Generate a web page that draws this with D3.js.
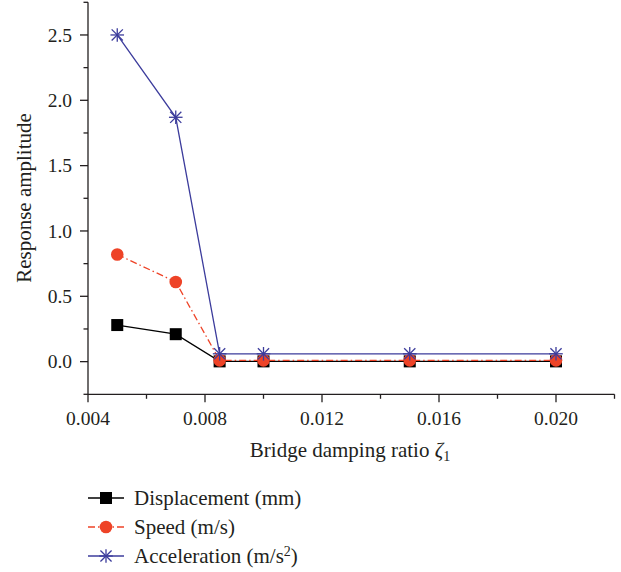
<!DOCTYPE html>
<html>
<head>
<meta charset="utf-8">
<script src="https://cdn.jsdelivr.net/npm/d3@7"></script>
<style>
  html, body { margin: 0; padding: 0; background: #fff; }
  svg { display: block; }
</style>
</head>
<body>
<svg id="chart" width="621" height="572" font-family="'Liberation Serif', 'Times New Roman', 'DejaVu Serif', serif"></svg>
<script>
// Bridge damping ratio values
const dampingRatio = [0.005, 0.007, 0.0085, 0.010, 0.015, 0.020];
// Response amplitudes per series
const displacement = [0.28, 0.21, 0.002, 0.002, 0.002, 0.002];
const speed        = [0.82, 0.61, 0.01, 0.01, 0.01, 0.01];
const acceleration = [2.50, 1.87, 0.06, 0.06, 0.06, 0.06];

const xTickValues = [0.004, 0.008, 0.012, 0.016, 0.020];
const yTickValues = [0.0, 0.5, 1.0, 1.5, 2.0, 2.5];

const seriesNames = ["Displacement (mm)", "Speed (m/s)", "Acceleration (m/s"];

const svg = d3.select("#chart");
const fs = 19.5;      // tick labels
const fsTitle = 21;   // axis titles
const fsLegend = 21;  // legend entries

const x = d3.scaleLinear().domain([0.004, 0.022]).range([88, 614.5]);
const y = d3.scaleLinear().domain([-0.25, 2.75]).range([394.3, 2.3]);

const ink = "#231f20";

// Axes: major ticks labelled, minor ticks halfway
const xMinor = d3.range(0.006, 0.0221, 0.004);
const yMinor = d3.range(-0.25, 2.76, 0.5);

const gx = svg.append("g").attr("transform", `translate(0,${y(-0.25)})`);
gx.append("line").attr("x1", x(0.004)).attr("x2", x(0.022)).attr("stroke", ink).attr("stroke-width", 1.3);
gx.selectAll(".maj").data(xTickValues).join("line")
  .attr("x1", d => x(d)).attr("x2", d => x(d)).attr("y1", 0).attr("y2", 8)
  .attr("stroke", ink).attr("stroke-width", 1.3);
gx.selectAll(".min").data(xMinor).join("line")
  .attr("x1", d => x(d)).attr("x2", d => x(d)).attr("y1", 0).attr("y2", 4.5)
  .attr("stroke", ink).attr("stroke-width", 1.3);
gx.selectAll("text").data(xTickValues).join("text")
  .attr("x", d => x(d)).attr("y", 31).attr("text-anchor", "middle").attr("fill", ink)
  .attr("font-size", fs).text(d3.format(".3f"));

const gy = svg.append("g").attr("transform", `translate(${x(0.004)},0)`);
gy.append("line").attr("y1", y(-0.25)).attr("y2", y(2.75)).attr("stroke", ink).attr("stroke-width", 1.3);
gy.selectAll(".maj").data(yTickValues).join("line")
  .attr("y1", d => y(d)).attr("y2", d => y(d)).attr("x1", 0).attr("x2", -8)
  .attr("stroke", ink).attr("stroke-width", 1.3);
gy.selectAll(".min").data(yMinor).join("line")
  .attr("y1", d => y(d)).attr("y2", d => y(d)).attr("x1", 0).attr("x2", -4.5)
  .attr("stroke", ink).attr("stroke-width", 1.3);
gy.selectAll("text").data(yTickValues).join("text")
  .attr("x", -16).attr("y", d => y(d)).attr("dy", "0.34em").attr("text-anchor", "end").attr("fill", ink)
  .attr("font-size", fs).text(d3.format(".1f"));

// Axis titles
svg.append("text").attr("x", 350).attr("y", 457).attr("text-anchor", "middle").attr("fill", ink)
  .attr("font-size", fsTitle)
  .call(t => {
    t.append("tspan").text("Bridge damping ratio ");
    t.append("tspan").attr("font-style", "italic").text("ζ");
    t.append("tspan").attr("font-size", 14).attr("dy", 4).text("1");
  });

svg.append("text").attr("transform", "translate(31,198) rotate(-90)").attr("fill", ink)
  .attr("text-anchor", "middle").attr("font-size", fsTitle).text("Response amplitude");

// Series styles
const styles = [
  { values: displacement, color: "#000000", dash: null,      marker: "square" },
  { values: speed,        color: "#ee4327", dash: "7,3,1.5,3", marker: "circle" },
  { values: acceleration, color: "#3c3c9c", dash: null,      marker: "star" }
];

function drawMarker(g, type, color) {
  if (type === "square") {
    g.append("rect").attr("x", -6).attr("y", -6).attr("width", 12).attr("height", 12).attr("fill", "#000");
  } else if (type === "circle") {
    g.append("circle").attr("r", 6.3).attr("fill", color);
  } else {
    const r = 6.8;
    const segs = [[0, -r, 0, r], [-r, 0, r, 0], [-r * 0.82, -r * 0.82, r * 0.82, r * 0.82], [-r * 0.82, r * 0.82, r * 0.82, -r * 0.82]];
    segs.forEach(s => g.append("line").attr("x1", s[0]).attr("y1", s[1]).attr("x2", s[2]).attr("y2", s[3])
      .attr("stroke", color).attr("stroke-width", 1.3));
  }
}

const line = d3.line().x((d, i) => x(dampingRatio[i])).y(d => y(d));

styles.forEach(s => {
  svg.append("path").datum(s.values).attr("d", line)
    .attr("fill", "none").attr("stroke", s.color).attr("stroke-width", 1.3)
    .attr("stroke-dasharray", s.dash);
});
styles.forEach(s => {
  s.values.forEach((v, i) => {
    const g = svg.append("g").attr("transform", `translate(${x(dampingRatio[i])},${y(v)})`);
    drawMarker(g, s.marker, s.color);
  });
});

// Legend
const legendY = [498, 527, 556];
styles.forEach((s, i) => {
  const g = svg.append("g").attr("transform", `translate(0,${legendY[i]})`);
  g.append("line").attr("x1", 88).attr("x2", 124).attr("y1", 0).attr("y2", 0)
    .attr("stroke", s.color).attr("stroke-width", 1.3).attr("stroke-dasharray", s.dash);
  const m = g.append("g").attr("transform", "translate(106,0)");
  drawMarker(m, s.marker, s.color);
  const t = g.append("text").attr("x", 134).attr("y", 0).attr("dy", "0.34em").attr("fill", ink).attr("font-size", fsLegend);
  t.append("tspan").text(seriesNames[i]);
  if (i === 2) {
    t.append("tspan").attr("font-size", 14).attr("dy", -7).text("2");
    t.append("tspan").attr("dy", 7).text(")");
  }
});
</script>
</body>
</html>
